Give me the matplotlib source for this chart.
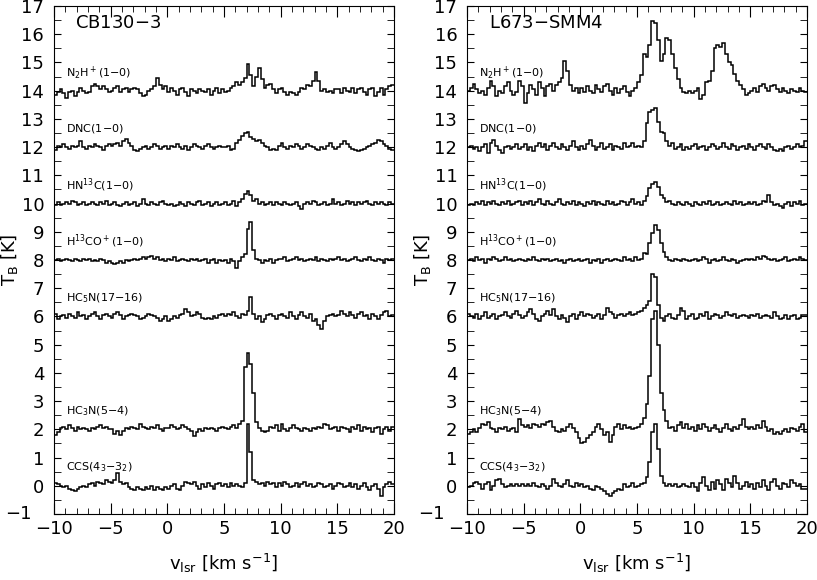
import numpy as np
import matplotlib.pyplot as plt
from matplotlib.ticker import MultipleLocator, FuncFormatter

# spectra cover -10..20 km/s in 0.25 km/s channels (120 channels)
v_lo, v_hi = -10.0, 20.0
n_chan = 120

sources = ['CB130$-$3', 'L673$-$SMM4']
line_names = ['N$_2$H$^+$(1$-$0)', 'DNC(1$-$0)', 'HN$^{13}$C(1$-$0)',
              'H$^{13}$CO$^+$(1$-$0)', 'HC$_5$N(17$-$16)', 'HC$_3$N(5$-$4)',
              'CCS(4$_3$$-$3$_2$)']
offsets = [14, 12, 10, 8, 6, 2, 0]

# ---- CB130-3, T_B [K] per channel ----
cb_n2hp = [
    -0.15, -0.05, 0.05, -0.1, -0.25, -0.05, 0.0, -0.2, -0.05, 0.1, 0.0, -0.1, -0.05, 0.15, 0.25, 0.15, 0.05, 0.15, 0.05, -0.05,
    0.0, 0.1, 0.15, -0.05, 0.05, 0.1, -0.05, 0.05, 0.1, 0.05, -0.1, -0.2, -0.15, 0.0, 0.05, 0.15, 0.45, 0.2, 0.05, 0.15,
    -0.05, 0.1, 0.0, -0.15, 0.05, 0.1, -0.05, -0.2, 0.05, 0.0, -0.1, 0.05, 0.0, -0.05, 0.05, -0.15, 0.0, 0.1, -0.1, 0.05,
    -0.05, 0.0, 0.1, 0.15, 0.3, 0.2, 0.3, 0.45, 0.95, 0.55, 0.15, 0.5, 0.8, 0.4, 0.1, 0.2, 0.25, 0.05, -0.1, 0.05,
    0.1, -0.05, -0.15, -0.05, -0.1, -0.15, -0.05, 0.1, 0.05, 0.2, 0.15, 0.35, 0.65, 0.35, 0.0, 0.05, -0.05, 0.0, -0.1, 0.05,
    0.05, -0.1, 0.1, 0.0, -0.05, 0.1, -0.1, 0.05, 0.1, -0.05, -0.15, 0.05, 0.1, -0.2, -0.05, 0.1, -0.15, 0.05, 0.15, 0.2]
cb_dnc = [
    -0.1, 0.05, 0.0, 0.1, 0.0, -0.05, 0.05, 0.0, 0.05, 0.2, 0.0, -0.05, 0.05, 0.0, 0.1, 0.05, 0.0, -0.1, 0.05, 0.1,
    0.05, 0.1, 0.15, 0.05, 0.2, 0.3, 0.15, 0.05, -0.1, -0.15, -0.05, 0.0, 0.05, -0.05, 0.0, 0.1, 0.05, -0.05, 0.0, 0.05,
    -0.05, 0.05, 0.0, 0.1, 0.0, -0.05, 0.05, -0.1, 0.0, 0.1, 0.05, 0.0, -0.05, 0.05, 0.1, 0.0, -0.05, 0.0, 0.05, 0.0,
    0.0, 0.05, -0.1, -0.05, 0.15, 0.25, 0.4, 0.5, 0.55, 0.35, 0.3, 0.2, 0.25, 0.15, 0.05, 0.0, -0.1, -0.05, -0.1, 0.05,
    0.15, 0.0, -0.05, 0.05, 0.0, 0.1, 0.05, -0.05, 0.0, 0.1, 0.05, 0.0, -0.05, -0.1, 0.0, -0.05, 0.05, 0.15, 0.0, -0.05,
    0.0, 0.1, 0.2, 0.1, 0.0, -0.05, -0.1, -0.15, -0.1, -0.05, 0.0, 0.05, 0.1, 0.15, 0.25, 0.2, 0.1, 0.05, -0.05, -0.1]
cb_hn13c = [
    -0.05, 0.05, -0.05, 0.0, 0.05, 0.0, 0.1, 0.05, -0.05, 0.0, 0.05, -0.05, 0.0, 0.05, 0.0, -0.05, 0.05, 0.0, 0.1, -0.05,
    0.0, 0.05, -0.05, -0.1, 0.0, 0.05, -0.05, 0.0, 0.05, -0.1, 0.0, 0.15, 0.0, -0.05, 0.05, 0.0, -0.05, 0.05, 0.1, 0.0,
    -0.05, 0.0, -0.1, -0.05, 0.05, 0.0, -0.1, 0.05, 0.0, -0.05, 0.05, 0.1, -0.05, 0.0, 0.05, -0.1, 0.0, 0.05, -0.05, 0.0,
    0.05, -0.05, 0.0, 0.1, -0.1, 0.05, 0.15, 0.35, 0.45, 0.3, 0.1, 0.15, 0.0, 0.05, -0.05, 0.0, 0.05, -0.05, 0.05, 0.0,
    -0.05, 0.05, 0.0, -0.05, 0.0, 0.05, -0.1, -0.2, 0.0, 0.05, 0.0, 0.1, 0.05, -0.05, 0.0, 0.05, -0.05, 0.0, 0.15, 0.0,
    0.05, -0.05, 0.0, 0.1, 0.0, 0.05, -0.05, 0.05, 0.0, 0.05, 0.1, 0.0, -0.05, 0.05, 0.0, 0.05, 0.0, -0.05, 0.05, 0.0]
cb_h13cop = [
    0.0, 0.05, -0.05, 0.0, 0.05, 0.0, -0.05, 0.05, 0.0, -0.05, 0.05, 0.0, 0.05, -0.05, 0.0, -0.05, 0.05, 0.0, -0.1, -0.05,
    -0.1, -0.15, -0.1, -0.05, -0.1, 0.0, -0.05, 0.0, 0.05, 0.0, 0.05, 0.1, 0.05, 0.1, 0.15, 0.05, 0.1, 0.0, 0.05, -0.05,
    0.05, 0.0, 0.1, -0.05, 0.0, 0.05, 0.0, -0.05, 0.05, 0.0, 0.05, -0.05, 0.0, 0.05, -0.1, 0.0, 0.05, -0.1, 0.0, -0.05,
    0.0, -0.1, 0.05, -0.05, -0.3, -0.05, 0.1, 0.2, 1.1, 1.35, 0.35, 0.05, 0.0, -0.1, 0.0, -0.05, 0.05, -0.1, 0.0, 0.05,
    0.05, 0.1, -0.05, 0.0, 0.05, 0.1, 0.0, 0.05, -0.05, 0.0, 0.05, 0.0, 0.1, -0.05, 0.05, 0.0, -0.05, 0.05, 0.0, 0.05,
    0.1, 0.0, 0.05, -0.05, 0.0, 0.05, 0.1, 0.0, -0.05, 0.05, 0.0, 0.1, 0.0, -0.05, 0.05, 0.0, -0.1, 0.05, 0.0, 0.05]
cb_hc5n = [
    0.1, -0.1, 0.0, 0.05, -0.05, 0.1, 0.0, -0.05, 0.15, 0.0, 0.05, -0.1, 0.0, 0.1, 0.15, 0.0, -0.1, 0.05, 0.1, 0.0,
    -0.05, 0.1, 0.15, 0.05, -0.1, 0.0, 0.05, 0.1, 0.05, 0.0, -0.1, -0.05, 0.0, 0.1, 0.05, 0.0, -0.05, -0.15, -0.1, 0.0,
    -0.15, -0.1, 0.0, -0.05, 0.05, 0.1, 0.25, 0.15, 0.0, 0.05, 0.15, 0.1, -0.05, -0.1, -0.05, -0.1, 0.0, -0.05, 0.05, 0.1,
    0.0, 0.1, 0.05, 0.15, 0.0, -0.05, 0.1, 0.05, 0.2, 0.7, 0.1, -0.1, 0.0, -0.2, -0.1, 0.05, 0.1, 0.0, -0.1, 0.05,
    0.1, 0.0, -0.05, 0.15, 0.0, -0.1, 0.05, 0.15, 0.0, -0.05, 0.1, -0.15, -0.1, -0.3, -0.45, -0.15, 0.0, 0.05, 0.1, 0.0,
    0.05, 0.2, 0.1, 0.0, 0.15, 0.05, -0.05, 0.1, 0.15, 0.0, 0.05, -0.1, 0.1, 0.0, -0.1, 0.05, 0.15, 0.2, 0.0, 0.05]
cb_hc3n = [
    -0.2, -0.1, 0.05, 0.1, 0.0, 0.15, 0.05, -0.05, 0.1, 0.0, 0.05, 0.0, -0.05, 0.05, 0.0, 0.1, 0.15, 0.05, 0.1, 0.0,
    0.0, -0.15, -0.05, -0.2, -0.05, 0.05, 0.0, 0.1, 0.05, 0.0, 0.2, 0.1, 0.05, 0.0, 0.1, 0.05, 0.15, 0.0, -0.05, 0.05,
    0.05, 0.15, 0.1, 0.0, 0.05, 0.15, 0.1, 0.0, -0.05, -0.25, -0.1, 0.0, -0.05, 0.05, 0.0, 0.05, 0.0, -0.05, 0.05, 0.1,
    0.05, 0.0, 0.1, 0.15, 0.05, 0.2, 0.3, 2.2, 2.7, 2.3, 1.3, 0.25, 0.05, -0.05, -0.1, -0.05, 0.1, 0.05, 0.15, -0.05,
    0.2, 0.0, -0.05, 0.05, 0.15, 0.05, 0.0, -0.05, 0.05, 0.0, -0.05, 0.05, 0.0, 0.1, 0.05, 0.2, 0.15, 0.0, 0.05, 0.1,
    -0.05, 0.1, 0.05, 0.0, -0.1, 0.1, 0.0, 0.15, -0.05, 0.1, 0.0, 0.05, -0.1, 0.05, 0.1, -0.15, 0.0, 0.1, -0.05, 0.1]
cb_ccs = [
    0.1, 0.05, 0.0, -0.05, 0.0, -0.1, -0.15, -0.2, -0.1, -0.05, 0.0, -0.05, 0.05, 0.1, 0.0, 0.15, 0.1, 0.05, 0.2, 0.15,
    0.1, 0.2, 0.45, 0.15, 0.05, 0.1, -0.05, -0.1, -0.15, -0.05, -0.1, -0.15, -0.05, -0.1, 0.0, -0.15, -0.05, -0.1, -0.15, -0.05,
    -0.1, 0.0, 0.05, -0.1, -0.15, 0.0, 0.15, 0.1, 0.05, 0.15, 0.0, -0.1, 0.05, -0.05, 0.1, 0.0, -0.1, 0.05, 0.1, 0.0,
    0.05, -0.05, 0.1, 0.0, 0.05, 0.0, -0.05, 0.1, 2.2, 1.2, 0.2, 0.15, 0.05, 0.1, 0.0, 0.15, 0.05, 0.1, -0.05, 0.1,
    0.0, 0.15, 0.05, -0.05, 0.0, 0.1, -0.05, 0.05, 0.15, 0.0, 0.05, -0.05, 0.0, 0.1, 0.05, -0.05, 0.0, 0.05, -0.1, 0.0,
    0.1, 0.05, -0.05, 0.0, 0.1, -0.05, 0.05, -0.1, 0.0, 0.1, -0.05, -0.15, 0.0, 0.05, -0.1, -0.35, -0.05, 0.05, 0.15, 0.05]

# ---- L673-SMM4, T_B [K] per channel ----
l673_n2hp = [
    0.0, 0.1, 0.25, 0.05, -0.1, 0.0, -0.15, 0.1, 0.35, 0.15, -0.2, 0.0, -0.1, 0.15, 0.3, 0.0, -0.15, -0.05, 0.35, 0.15,
    -0.45, -0.1, 0.2, 0.05, -0.15, 0.3, 0.1, -0.2, 0.15, 0.25, 0.0, 0.2, 0.3, 0.45, 1.05, 0.7, 0.2, 0.0, 0.1, -0.1,
    0.1, -0.05, 0.15, 0.0, -0.1, 0.2, 0.05, -0.05, 0.15, 0.25, 0.0, -0.15, 0.1, -0.1, 0.05, 0.15, -0.05, -0.2, 0.0, 0.1,
    0.3, 0.55, 1.3, 1.2, 1.6, 2.45, 2.4, 1.8, 1.05, 1.3, 1.85, 1.8, 1.3, 0.8, 0.4, 0.1, -0.05, -0.1, 0.0, -0.1,
    0.0, 0.1, -0.3, -0.15, 0.3, 0.35, 0.7, 1.5, 1.6, 1.55, 1.7, 1.3, 1.0, 0.9, 0.6, 0.35, 0.2, 0.05, -0.15, -0.1,
    0.0, 0.1, -0.05, 0.15, 0.25, 0.1, 0.0, 0.15, 0.2, 0.05, -0.05, 0.1, 0.0, -0.1, 0.05, 0.0, -0.05, 0.1, 0.0, -0.05]
l673_dnc = [
    0.0, 0.05, -0.05, 0.0, -0.15, 0.0, 0.1, -0.2, 0.15, 0.25, 0.05, -0.1, -0.2, 0.0, 0.05, -0.05, 0.0, 0.1, -0.05, 0.0,
    0.1, -0.1, 0.0, -0.15, 0.05, 0.15, 0.0, 0.1, -0.1, 0.05, 0.15, 0.0, -0.05, 0.1, 0.0, -0.1, 0.05, 0.2, 0.0, -0.1,
    0.05, -0.05, 0.1, 0.25, 0.05, -0.1, 0.0, 0.15, -0.05, 0.0, 0.1, -0.1, 0.05, 0.0, -0.05, 0.15, 0.0, 0.05, 0.15, 0.0,
    0.05, 0.0, 0.2, 0.85, 1.25, 1.3, 1.4, 0.9, 0.55, 0.5, 0.2, 0.05, 0.15, -0.05, 0.0, 0.1, -0.1, 0.0, -0.05, 0.05,
    0.1, -0.05, 0.0, 0.05, -0.1, 0.0, 0.1, 0.05, -0.05, 0.0, 0.15, 0.0, -0.05, 0.1, 0.05, -0.1, 0.0, 0.05, -0.05, 0.1,
    0.0, -0.1, 0.05, 0.1, 0.0, -0.05, 0.1, 0.0, -0.1, -0.15, -0.05, -0.15, 0.0, 0.05, -0.05, 0.0, 0.1, 0.0, 0.05, 0.2]
l673_hn13c = [
    -0.05, 0.0, -0.05, 0.05, 0.0, 0.1, -0.05, 0.05, 0.0, 0.1, 0.0, -0.05, 0.05, 0.0, 0.1, -0.05, 0.0, 0.05, 0.1, -0.05,
    0.05, 0.0, 0.1, -0.05, 0.05, 0.15, 0.0, -0.05, 0.1, 0.0, -0.05, 0.05, 0.15, 0.0, -0.05, 0.05, 0.0, 0.1, -0.05, 0.05,
    0.0, -0.1, 0.05, 0.0, 0.1, -0.05, 0.05, 0.0, -0.05, 0.1, 0.0, 0.05, -0.05, 0.0, 0.1, 0.05, -0.05, 0.05, 0.15, 0.0,
    0.05, -0.05, 0.1, 0.25, 0.55, 0.7, 0.75, 0.6, 0.3, 0.2, 0.05, 0.1, 0.0, -0.05, 0.05, 0.0, -0.05, 0.05, 0.0, -0.1,
    0.05, 0.0, -0.05, 0.05, 0.0, 0.1, -0.05, 0.0, 0.05, -0.05, 0.0, 0.05, 0.0, -0.05, 0.1, 0.0, 0.05, -0.05, 0.0, 0.05,
    0.0, 0.05, -0.05, 0.0, 0.1, 0.05, 0.3, 0.05, -0.05, 0.0, -0.1, -0.15, 0.0, 0.05, -0.1, 0.05, 0.0, 0.1, -0.05, 0.0]
l673_h13cop = [
    0.0, 0.05, -0.05, 0.1, 0.0, 0.05, -0.1, 0.05, 0.0, 0.1, 0.05, -0.05, 0.0, 0.1, 0.0, 0.05, -0.05, 0.0, 0.05, 0.0,
    -0.05, 0.05, 0.0, 0.1, 0.0, -0.05, 0.05, 0.0, 0.05, -0.05, 0.0, 0.05, -0.05, 0.0, -0.1, 0.0, 0.05, -0.05, 0.0, 0.05,
    -0.05, 0.0, 0.05, -0.1, 0.0, -0.05, 0.05, -0.1, 0.0, 0.05, -0.05, 0.0, 0.05, 0.0, -0.05, 0.1, 0.0, 0.05, -0.05, 0.1,
    0.0, 0.05, 0.25, 0.2, 0.6, 0.95, 1.25, 1.05, 0.6, 0.3, 0.1, 0.0, -0.05, 0.05, 0.0, -0.05, 0.05, 0.0, -0.05, 0.0,
    0.05, -0.05, 0.0, 0.1, 0.05, -0.1, 0.0, 0.05, -0.05, 0.0, 0.1, 0.0, -0.05, 0.05, 0.0, -0.1, -0.05, 0.0, 0.05, 0.0,
    0.05, 0.0, 0.1, 0.05, 0.15, 0.1, 0.05, 0.0, 0.05, -0.05, 0.0, 0.05, 0.1, -0.05, 0.0, 0.05, 0.0, 0.1, 0.05, 0.0]
l673_hc5n = [
    0.1, 0.0, -0.05, 0.1, -0.1, 0.0, 0.15, -0.05, 0.0, 0.1, -0.1, 0.0, 0.05, 0.15, 0.0, -0.05, 0.1, 0.2, 0.05, -0.05,
    0.0, 0.15, 0.25, 0.1, -0.1, -0.15, 0.0, 0.1, 0.2, 0.05, 0.25, 0.0, -0.1, 0.05, -0.05, -0.2, 0.0, 0.1, -0.1, 0.05,
    0.15, 0.0, 0.1, 0.05, -0.05, 0.0, 0.1, -0.1, 0.05, 0.3, 0.15, 0.1, -0.05, 0.05, 0.1, 0.0, 0.1, 0.15, 0.05, 0.1,
    0.15, 0.2, 0.3, 0.4, 0.55, 1.5, 1.4, 0.4, -0.05, -0.15, 0.0, 0.1, -0.05, -0.1, 0.05, 0.3, 0.2, -0.1, 0.0, 0.1,
    -0.1, -0.05, 0.1, 0.0, 0.15, -0.1, 0.0, 0.1, 0.05, -0.05, 0.0, 0.15, 0.05, 0.0, 0.1, -0.05, 0.0, 0.05, 0.0, -0.05,
    0.05, 0.0, 0.1, -0.05, 0.0, 0.05, 0.0, -0.05, 0.15, 0.0, -0.1, -0.05, 0.05, -0.1, 0.0, 0.05, -0.1, -0.05, 0.05, 0.05]
l673_hc3n = [
    -0.15, -0.1, 0.0, -0.1, 0.05, 0.2, 0.15, 0.25, 0.05, 0.0, -0.1, 0.05, 0.0, 0.1, -0.05, 0.0, 0.05, -0.1, 0.35, 0.15,
    0.1, 0.15, 0.05, 0.2, 0.15, 0.1, 0.2, 0.15, 0.25, 0.3, 0.1, -0.05, -0.1, 0.0, -0.05, 0.1, 0.2, 0.05, -0.1, -0.3,
    -0.5, -0.45, -0.3, -0.2, -0.1, 0.1, 0.2, 0.0, -0.2, -0.1, -0.45, -0.2, 0.1, 0.2, 0.0, 0.15, 0.05, 0.1, 0.0, 0.05,
    0.1, 0.2, 0.4, 0.9, 1.9, 3.9, 4.2, 3.0, 1.3, 0.7, 0.3, 0.05, 0.1, -0.05, 0.15, 0.25, 0.05, 0.2, 0.0, 0.1,
    -0.05, 0.15, 0.0, 0.2, 0.1, -0.05, 0.05, 0.15, 0.0, -0.1, 0.05, 0.2, 0.0, -0.05, 0.1, 0.0, 0.15, 0.35, 0.1, 0.0,
    0.1, 0.0, 0.15, 0.05, 0.3, 0.1, -0.05, 0.0, -0.15, -0.1, -0.15, -0.05, 0.0, -0.1, 0.05, 0.0, -0.05, 0.1, 0.2, -0.1]
l673_ccs = [
    -0.05, 0.0, 0.1, 0.15, 0.05, -0.1, 0.05, 0.15, -0.15, 0.0, 0.2, 0.25, 0.05, -0.05, 0.0, 0.05, 0.0, 0.05, 0.0, 0.05,
    0.0, 0.05, 0.0, 0.1, 0.0, -0.05, 0.05, 0.0, -0.1, 0.0, 0.25, 0.1, 0.0, -0.05, 0.05, 0.2, 0.0, -0.05, 0.1, 0.0,
    0.05, -0.05, 0.0, -0.1, -0.15, 0.0, -0.05, -0.1, -0.2, -0.3, -0.35, -0.25, -0.2, -0.1, -0.15, 0.05, -0.05, 0.0, 0.1, -0.05,
    0.0, 0.05, 0.1, 0.3, 0.85, 1.9, 2.2, 1.3, 0.35, 0.1, 0.0, 0.05, 0.0, 0.05, -0.05, 0.0, 0.05, 0.0, -0.05, 0.1,
    -0.05, -0.2, 0.1, 0.3, 0.0, -0.15, 0.15, -0.1, 0.2, 0.05, -0.15, 0.25, 0.1, -0.05, 0.35, 0.1, -0.1, 0.0, 0.15, -0.05,
    0.05, -0.1, 0.1, -0.05, 0.2, 0.0, -0.15, 0.15, 0.25, 0.0, -0.1, 0.1, 0.05, -0.05, 0.2, 0.1, 0.0, 0.05, -0.1, -0.1]

cb_spectra = [cb_n2hp, cb_dnc, cb_hn13c, cb_h13cop, cb_hc5n, cb_hc3n, cb_ccs]
l673_spectra = [l673_n2hp, l673_dnc, l673_hn13c, l673_h13cop, l673_hc5n, l673_hc3n, l673_ccs]

edges = np.linspace(v_lo, v_hi, n_chan + 1)


def ylab(val, pos):
    # the bottom label sits further left, clear of the -10 on the x axis
    if val < -0.5:
        return ''
    return '%d' % val


fig = plt.figure(figsize=(8.17, 5.8), dpi=100)
panel_left = [0.066, 0.5716]

for left, src, spectra in zip(panel_left, sources, [cb_spectra, l673_spectra]):
    ax = fig.add_axes([left, 0.1138, 0.4162, 0.8759])
    for name, off, spec in zip(line_names, offsets, spectra):
        assert len(spec) == n_chan
        ax.stairs(np.array(spec) + off, edges, baseline=None, color='black', lw=1.1)
        ax.text(-8.9, off + 0.65, name, fontsize=8, va='center')
    ax.text(-8.1, 16.4, src, fontsize=13, va='center')

    ax.set_xlim(-10, 20)
    ax.set_ylim(-1, 17)
    ax.xaxis.set_major_locator(MultipleLocator(5))
    ax.xaxis.set_minor_locator(MultipleLocator(1))
    ax.yaxis.set_major_locator(MultipleLocator(1))
    ax.yaxis.set_minor_locator(MultipleLocator(0.5))
    ax.yaxis.set_major_formatter(FuncFormatter(ylab))
    ax.tick_params(which='both', direction='in', top=True, right=True, labelsize=13)
    ax.tick_params(axis='x', which='major', length=8, pad=4)
    ax.tick_params(axis='x', which='minor', length=4)
    ax.tick_params(axis='y', which='both', length=5, pad=7)
    ax.text(-0.065, 0.0, '\u22121', fontsize=13, ha='right', va='center',
            transform=ax.transAxes)
    ax.set_xlabel(r'v$_{\rm lsr}$ [km s$^{-1}$]', fontsize=13, labelpad=10)
    ax.set_ylabel(r'T$_{\rm B}$ [K]', fontsize=13)
    ax.yaxis.set_label_coords(-0.1, 0.5)

fig.savefig('out.png', dpi=100)
